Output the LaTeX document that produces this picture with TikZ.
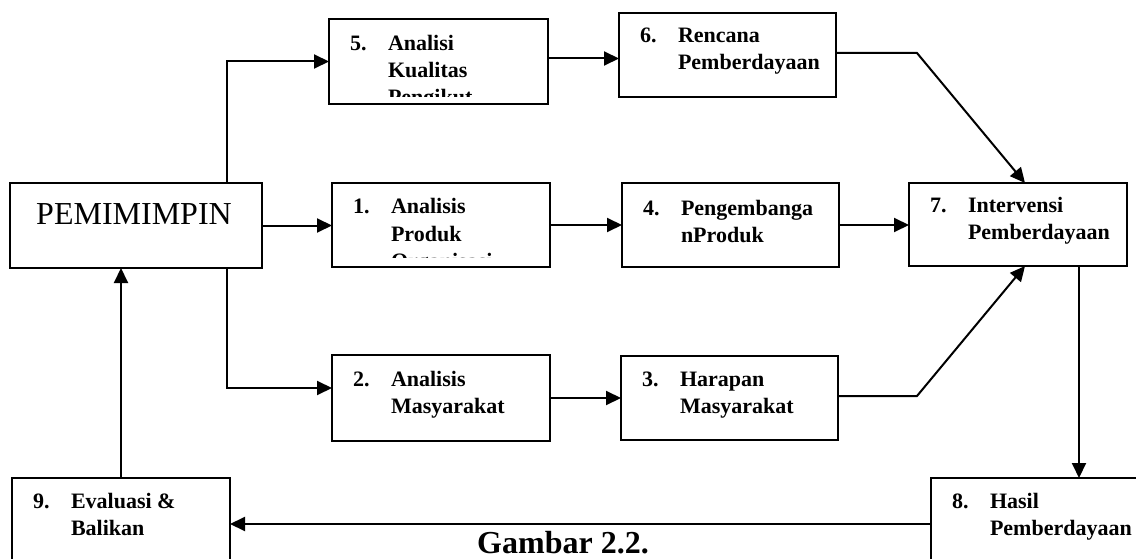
\documentclass[tikz,border=0pt]{standalone}
\usepackage{fontspec}
\setmainfont{Liberation Serif}
\usetikzlibrary{arrows.meta,calc}
\tikzset{
  box/.style={draw, line width=1.8pt, rectangle, inner sep=0pt, outer sep=0pt},
  arr/.style={line width=2pt, -{Triangle[length=15pt,width=14pt]}},
  plain/.style={draw=none, minimum width=0pt, minimum height=0pt, inner sep=0pt, outer sep=0pt},
  bt/.style={plain, font=\fontsize{22}{27}\selectfont\bfseries, anchor=base west},
}
% #1 bottom clip inset, #2 first baseline offset, #3 number, #4 #5 #6 lines
\newcommand{\boxtxt}[6]{%
  \clip (path picture bounding box.north west) rectangle ($(path picture bounding box.south east)+(0,-#1)$);
  \node[bt] at ($(path picture bounding box.north west)+(21,#2)$) {#3};
  \node[bt] at ($(path picture bounding box.north west)+(59,#2)$) {#4};
  \node[bt] at ($(path picture bounding box.north west)+(59,#2+27)$) {#5};
  \node[bt] at ($(path picture bounding box.north west)+(59,#2+54)$) {#6};
}
\begin{document}
\begin{tikzpicture}[x=1pt,y=-1pt]
\useasboundingbox (0,0) rectangle (1136,559);
\clip (0,0) rectangle (1136,559);

% boxes
\node[box, minimum width=252pt, minimum height=85pt,
  path picture={\node[plain, anchor=base, font=\fontsize{32}{38}\selectfont]
    at ($(path picture bounding box.center)+(-2,-1.5)$) {PEMIMIMPIN};}]
  (P) at (136,225.5) {};

\node[box, minimum width=219pt, minimum height=85pt,
  path picture={\boxtxt{7}{32}{5.}{Analisi}{Kualitas}{Pengikut}}]
  (b5) at (438.5,61.5) {};
\node[box, minimum width=217pt, minimum height=84pt,
  path picture={\boxtxt{0}{30}{6.}{Rencana}{Pemberdayaan}{}}]
  (b6) at (727.5,55) {};
\node[box, minimum width=218pt, minimum height=84pt,
  path picture={\boxtxt{10}{31}{1.}{Analisis}{Produk}{Organisasi}}]
  (b1) at (441,225) {};
\node[box, minimum width=217pt, minimum height=84pt,
  path picture={\boxtxt{0}{32}{4.}{Pengembanga}{nProduk}{}}]
  (b4) at (730.5,225) {};
\node[box, minimum width=218pt, minimum height=83pt,
  path picture={\boxtxt{0}{30}{7.}{Intervensi}{Pemberdayaan}{}}]
  (b7) at (1018,224.5) {};
\node[box, minimum width=218pt, minimum height=86pt,
  path picture={\boxtxt{0}{31}{2.}{Analisis}{Masyarakat}{}}]
  (b2) at (441,398) {};
\node[box, minimum width=217pt, minimum height=84pt,
  path picture={\boxtxt{0}{30}{3.}{Harapan}{Masyarakat}{}}]
  (b3) at (729.5,398) {};
\node[box, minimum width=218pt, minimum height=100pt,
  path picture={\boxtxt{0}{30}{9.}{Evaluasi \&}{Balikan}{}}]
  (b9) at (121,528) {};
\node[box, minimum width=219pt, minimum height=100pt,
  path picture={\boxtxt{0}{30}{8.}{Hasil}{Pemberdayaan}{}}]
  (b8) at (1040.5,528) {};

\node[plain, font=\fontsize{32}{38}\selectfont\bfseries, anchor=base]
  (cap) at (563,553) {Gambar 2.2.};

% connectors
\coordinate (k1) at (917,53);
\coordinate (k2) at (917,396);
\draw[arr] ([xshift=91pt]P.north) |- (b5.west);
\draw[arr] (P.east) -- (P.east -| b1.west);
\draw[arr] ([xshift=91pt]P.south) |- ([yshift=10pt]b2.west);
\draw[arr] ([yshift=3pt]b5.east) -- ([yshift=3pt]b5.east -| b6.west);
\draw[arr] (b1.east) -- (b4.west);
\draw[arr] (b4.east) -- (b4.east -| b7.west);
\draw[arr] (b2.east) -- (b3.west);
\draw[arr] ([yshift=2pt]b6.east) -- (k1) -- ([xshift=7pt]b7.north);
\draw[arr] ([yshift=2pt]b3.east) -- (k2) -- ([xshift=7pt]b7.south);
\draw[arr] ([xshift=61pt]b7.south) -- ([xshift=61pt]b7.south |- b8.north);
\draw[arr] ([yshift=4pt]b8.west) -- ([yshift=4pt]b8.west -| b9.east);
\draw[arr] (b9.north) -- (b9.north |- P.south);
\end{tikzpicture}
\end{document}
